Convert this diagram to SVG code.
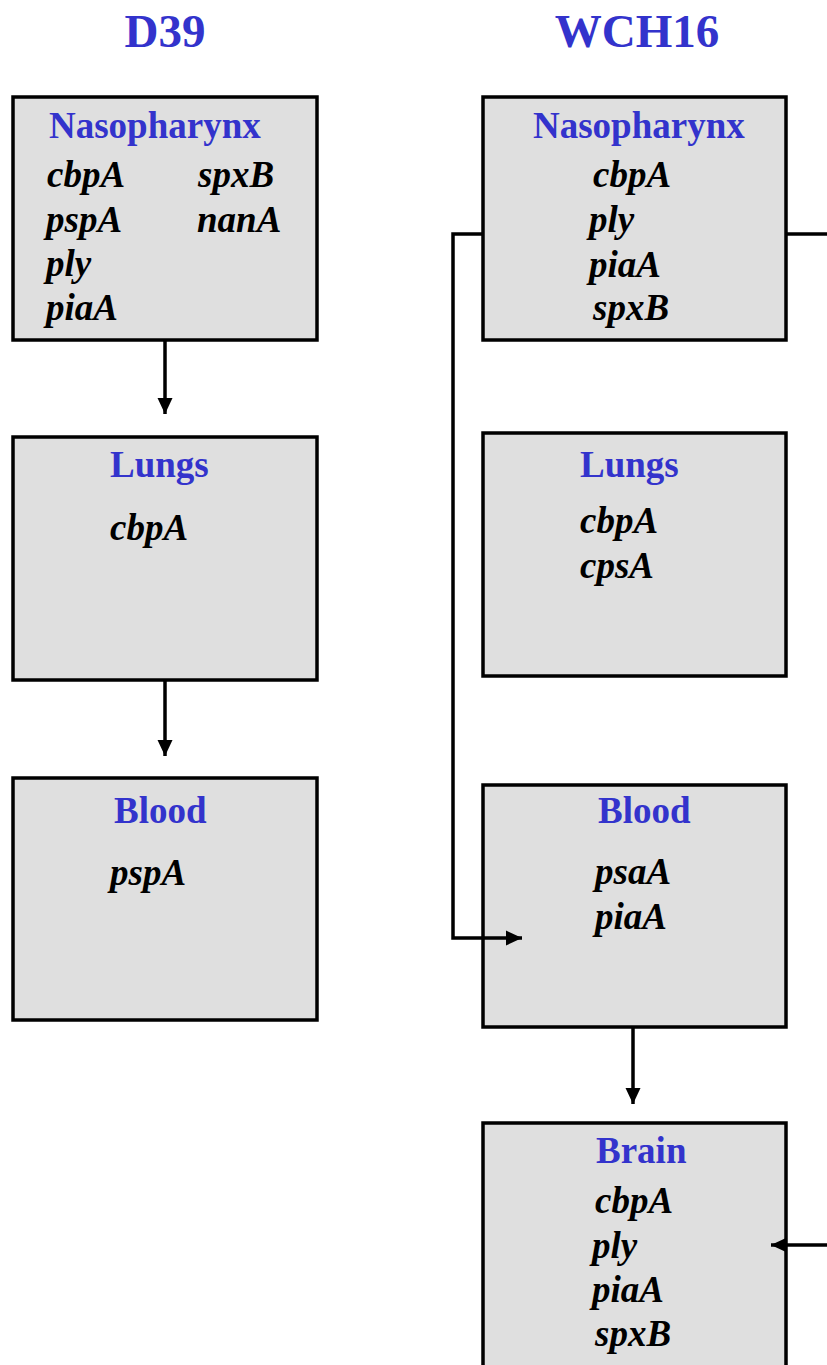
<svg xmlns="http://www.w3.org/2000/svg" width="827" height="1365" viewBox="0 0 827 1365">
  <style>
    .box { fill: #dfdfdf; stroke: #000; stroke-width: 3.5; }
    .title { font-family: "Liberation Serif", "Times New Roman", serif; font-weight: bold; font-size: 47px; fill: #3333cc; }
    .head { font-family: "Liberation Serif", "Times New Roman", serif; font-weight: bold; font-size: 37px; fill: #3333cc; }
    .gene { font-family: "Liberation Serif", "Times New Roman", serif; font-weight: bold; font-style: italic; font-size: 37px; fill: #000; }
    .wire { fill: none; stroke: #000; stroke-width: 3.5; }
  </style>
  <defs>
    <marker id="arrow" markerWidth="16" markerHeight="16" refX="16" refY="8" orient="auto" markerUnits="userSpaceOnUse">
      <path d="M0,0.5 L16,8 L0,15.5 Z" fill="#000"/>
    </marker>
  </defs>
  <rect width="827" height="1365" fill="#fff"/>

  <!-- strain titles -->
  <text class="title" x="165" y="47" text-anchor="middle">D39</text>
  <text class="title" x="637" y="47" text-anchor="middle">WCH16</text>

  <!-- D39 column -->
  <g id="d39-nasopharynx">
    <rect class="box" x="13" y="97" width="304" height="243"/>
    <text class="head" x="49" y="138">Nasopharynx</text>
    <text class="gene" x="47" y="187">cbpA</text>
    <text class="gene" x="46" y="232">pspA</text>
    <text class="gene" x="46" y="276">ply</text>
    <text class="gene" x="46" y="320">piaA</text>
    <text class="gene" x="198" y="187">spxB</text>
    <text class="gene" x="197" y="232">nanA</text>
  </g>
  <g id="d39-lungs">
    <rect class="box" x="13" y="437" width="304" height="243"/>
    <text class="head" x="110" y="477">Lungs</text>
    <text class="gene" x="110" y="540">cbpA</text>
  </g>
  <g id="d39-blood">
    <rect class="box" x="13" y="778" width="304" height="242"/>
    <text class="head" x="114" y="823">Blood</text>
    <text class="gene" x="110" y="885">pspA</text>
  </g>

  <!-- WCH16 column -->
  <g id="wch16-nasopharynx">
    <rect class="box" x="483" y="97" width="303" height="243"/>
    <text class="head" x="533" y="138">Nasopharynx</text>
    <text class="gene" x="593" y="187">cbpA</text>
    <text class="gene" x="589" y="232">ply</text>
    <text class="gene" x="589" y="277">piaA</text>
    <text class="gene" x="593" y="320">spxB</text>
  </g>
  <g id="wch16-lungs">
    <rect class="box" x="483" y="433" width="303" height="243"/>
    <text class="head" x="580" y="477">Lungs</text>
    <text class="gene" x="580" y="533">cbpA</text>
    <text class="gene" x="580" y="578">cpsA</text>
  </g>
  <g id="wch16-blood">
    <rect class="box" x="483" y="785" width="303" height="242"/>
    <text class="head" x="598" y="823">Blood</text>
    <text class="gene" x="595" y="884">psaA</text>
    <text class="gene" x="595" y="929">piaA</text>
  </g>
  <g id="wch16-brain">
    <rect class="box" x="483" y="1123" width="303" height="245"/>
    <text class="head" x="596" y="1163">Brain</text>
    <text class="gene" x="595" y="1213">cbpA</text>
    <text class="gene" x="592" y="1258">ply</text>
    <text class="gene" x="592" y="1302">piaA</text>
    <text class="gene" x="595" y="1346">spxB</text>
  </g>

  <!-- connectors -->
  <g id="connectors">
    <line class="wire" x1="165" y1="340" x2="165" y2="414" marker-end="url(#arrow)"/>
    <line class="wire" x1="165" y1="680" x2="165" y2="756" marker-end="url(#arrow)"/>
    <line class="wire" x1="633" y1="1027" x2="633" y2="1104" marker-end="url(#arrow)"/>
    <polyline class="wire" points="483,234 453,234 453,938 522,938" marker-end="url(#arrow)"/>
    <line class="wire" x1="786" y1="234" x2="827" y2="234"/>
    <line class="wire" x1="827" y1="1245" x2="771" y2="1245" marker-end="url(#arrow)"/>
  </g>
</svg>
